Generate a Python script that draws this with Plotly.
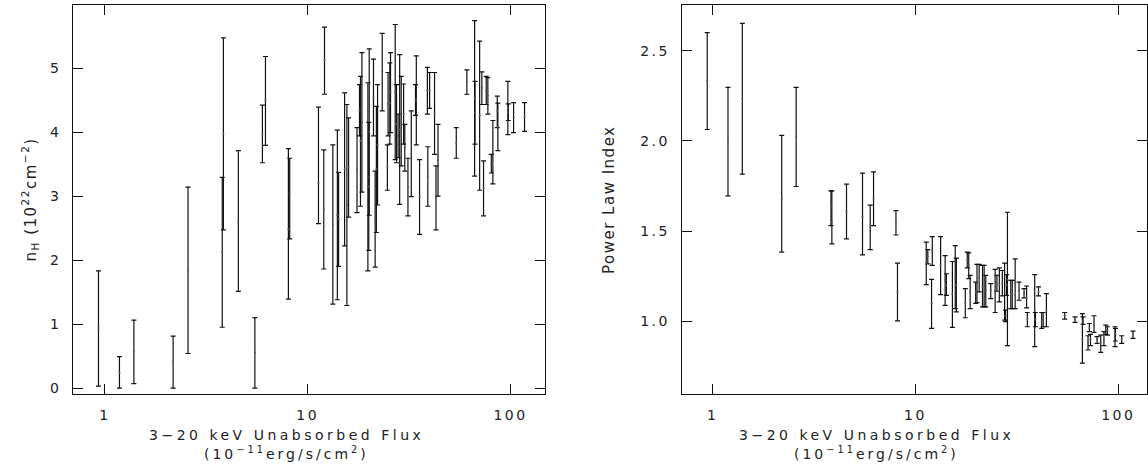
import plotly.graph_objects as go

# ---------------- data: left panel (n_H) ----------------
nh_flux = [0.93, 1.18, 1.39, 2.17, 2.57, 3.79, 3.84, 4.55, 5.49, 5.98, 6.19, 8.03, 8.15,
           11.3, 12.1, 12.0, 13.3, 14.0, 14.2, 15.2, 15.6, 15.9, 17.5,
           18.0, 18.2, 18.5, 19.8, 20.0, 20.1, 21.1, 21.5, 21.8, 22.1,
           23.3, 24.7, 24.9, 25.4, 25.6, 27.0, 27.4, 27.9, 28.4, 28.9,
           29.7, 30.1, 31.2, 32.4, 34.0, 34.3, 35.6, 38.9, 39.1, 39.9,
           42.2, 42.9, 43.9, 54.0, 60.9, 66.5, 66.8, 70.4, 72.2, 73.6,
           75.9, 77.3, 80.4, 81.8, 86.0, 86.6, 97.0, 97.5, 103.5, 117.2]
nh_lo = [0.03, 0.00, 0.07, 0.00, 0.54, 0.95, 2.47, 1.51, 0.00, 3.52, 3.79, 1.39, 2.33,
         2.57, 4.59, 1.86, 1.31, 1.38, 1.90, 2.22, 1.29, 2.67, 2.74,
         3.94, 2.84, 3.06, 1.83, 2.15, 2.70, 3.94, 1.89, 2.43, 2.86,
         4.33, 3.09, 3.94, 3.81, 3.99, 3.57, 3.52, 3.60, 2.87, 3.47,
         3.81, 3.39, 2.69, 2.99, 4.26, 3.80, 2.40, 4.28, 2.84, 4.37,
         3.65, 2.47, 3.00, 3.59, 4.59, 3.31, 3.81, 3.09, 4.43, 2.69,
         4.43, 4.28, 3.36, 3.19, 4.07, 3.71, 3.96, 4.18, 3.99, 4.01]
nh_hi = [1.83, 0.49, 1.06, 0.81, 3.14, 3.29, 5.47, 3.71, 1.10, 4.42, 5.18, 3.74, 3.59,
         4.39, 5.64, 3.72, 3.80, 4.03, 3.37, 4.61, 4.43, 4.22, 4.07,
         4.74, 4.87, 5.24, 4.77, 4.15, 5.30, 5.14, 3.39, 4.40, 4.74,
         5.54, 3.80, 4.93, 5.08, 5.24, 5.68, 4.74, 4.28, 5.21, 4.87,
         4.75, 4.12, 3.59, 4.33, 4.74, 5.19, 3.57, 5.01, 3.77, 4.93,
         4.93, 3.47, 4.12, 4.07, 4.97, 5.74, 4.79, 5.42, 4.94, 3.55,
         4.87, 4.85, 3.65, 4.18, 4.56, 4.45, 4.79, 4.44, 4.46, 4.46]
nh_val = [0.94, 0.24, 0.57, 0.41, 1.84, 2.12, 3.97, 2.60, 0.55, 3.97, 4.49, 2.48, 3.03,
          3.20, 5.12, 2.79, 2.55, 2.70, 2.64, 3.42, 2.86, 3.45, 3.41,
          4.34, 3.86, 4.15, 3.30, 3.15, 4.00, 4.54, 2.64, 3.42, 3.80,
          4.94, 3.45, 4.44, 4.45, 4.62, 4.63, 4.13, 3.94, 4.04, 4.17,
          4.28, 3.76, 3.14, 3.66, 4.50, 4.50, 2.99, 4.65, 3.31, 4.65,
          4.29, 2.97, 3.56, 3.83, 4.78, 4.53, 4.30, 4.26, 4.69, 3.12,
          4.65, 4.57, 3.51, 3.69, 4.32, 4.08, 4.38, 4.31, 4.23, 4.24]

# ---------------- data: right panel (power law index) ----------------
pl_flux = [0.94, 1.19, 1.40, 2.19, 2.58, 3.83, 3.87, 4.57, 5.48, 5.98, 6.21, 8.01, 8.15,
           11.3, 11.5, 12.0, 12.1, 13.3, 14.0, 14.2, 15.2, 15.7, 15.9,
           17.6, 18.0, 18.3, 18.6, 19.8, 20.1, 20.6, 21.4, 21.8, 22.2,
           23.5, 24.7, 25.2, 25.9, 26.8, 27.5, 27.8, 28.1, 28.4, 29.5,
           30.0, 31.0, 32.4, 34.3, 35.3, 35.6, 38.7, 39.0, 40.4, 41.9,
           42.6, 44.2, 54.4, 61.2, 66.5, 67.0, 70.9, 72.0, 72.9, 75.9,
           78.6, 81.9, 84.9, 86.7, 88.4, 96.3, 96.8, 103.9, 118.1]
pl_lo = [2.063, 1.695, 1.815, 1.383, 1.747, 1.530, 1.429, 1.456, 1.368, 1.397, 1.530, 1.478, 1.002,
         1.203, 1.318, 0.960, 1.309, 1.147, 1.088, 1.143, 0.965, 1.070, 1.052,
         1.019, 1.295, 1.236, 1.070, 1.098, 1.103, 1.162, 1.079, 1.079, 1.079,
         1.125, 1.048, 1.166, 1.107, 1.140, 1.006, 0.997, 1.143, 0.864, 1.070,
         1.070, 1.070, 1.116, 1.129, 1.074, 0.969, 0.859, 0.969, 1.140, 0.960,
         0.969, 0.969, 1.011, 0.993, 0.767, 0.982, 0.840, 0.942, 0.864, 0.938,
         0.877, 0.827, 0.864, 0.927, 0.923, 0.859, 0.890, 0.877, 0.905]
pl_hi = [2.600, 2.297, 2.652, 2.030, 2.297, 1.723, 1.723, 1.760, 1.821, 1.644, 1.828, 1.613, 1.322,
         1.438, 1.397, 1.232, 1.469, 1.469, 1.364, 1.263, 1.331, 1.419, 1.350,
         1.180, 1.383, 1.379, 1.254, 1.217, 1.315, 1.315, 1.309, 1.309, 1.254,
         1.208, 1.287, 1.254, 1.295, 1.281, 1.322, 1.061, 1.258, 1.604, 1.226,
         1.226, 1.346, 1.217, 1.180, 1.195, 1.048, 1.258, 1.048, 1.190, 1.048,
         1.048, 1.153, 1.048, 1.024, 1.042, 1.024, 0.919, 0.987, 0.927, 1.030,
         0.914, 0.923, 0.942, 0.978, 0.969, 0.969, 0.960, 0.919, 0.945]
pl_val = [2.334, 1.996, 2.233, 1.681, 2.023, 1.630, 1.549, 1.610, 1.580, 1.520, 1.680, 1.550, 1.162,
          1.32, 1.36, 1.10, 1.39, 1.31, 1.23, 1.20, 1.15, 1.24, 1.20,
          1.10, 1.34, 1.31, 1.16, 1.16, 1.21, 1.24, 1.19, 1.19, 1.17,
          1.17, 1.17, 1.21, 1.20, 1.21, 1.16, 1.03, 1.20, 1.23, 1.15,
          1.15, 1.21, 1.17, 1.15, 1.13, 1.01, 1.06, 1.01, 1.16, 1.00,
          1.01, 1.06, 1.03, 1.01, 0.90, 1.00, 0.88, 0.96, 0.90, 0.98,
          0.90, 0.88, 0.90, 0.95, 0.95, 0.91, 0.93, 0.90, 0.93]

# ---------------- axis labels / ticks ----------------
x_major = [1, 10, 100]
x_major_text = ["1", "10", "100"]
x_minor = [0.7, 0.8, 0.9, 2, 3, 4, 5, 6, 7, 8, 9, 20, 30, 40, 50, 60, 70, 80, 90]
nh_ticks = [0, 1, 2, 3, 4, 5]
nh_ticktext = ["0", "1", "2", "3", "4", "5"]
nh_minor = [0.2, 0.4, 0.6, 0.8, 1.2, 1.4, 1.6, 1.8, 2.2, 2.4, 2.6, 2.8,
            3.2, 3.4, 3.6, 3.8, 4.2, 4.4, 4.6, 4.8, 5.2, 5.4, 5.6, 5.8]
pl_ticks = [1.0, 1.5, 2.0, 2.5]
pl_ticktext = ["1.0", "1.5", "2.0", "2.5"]
pl_minor = [0.7, 0.8, 0.9, 1.1, 1.2, 1.3, 1.4, 1.6, 1.7, 1.8, 1.9,
            2.1, 2.2, 2.3, 2.4, 2.6, 2.7]
x_title_1 = "3\u221220 keV Unabsorbed Flux"
x_title_2 = "(10<sup>\u221211</sup>erg/s/cm<sup>2</sup>)"
nh_title = "n<sub>H</sub> (10<sup>22</sup>cm<sup>\u22122</sup>)"
pl_title = "Power Law Index"

FONT = "DejaVu Sans"
INK = "#111111"
TXT = "#222222"


def sp(t, ls=2.5):
    return '<span style="letter-spacing:%spx">%s</span>' % (ls, t)


def bars(flux, lo, hi, val, xa, ya):
    return go.Scatter(
        x=flux, y=val, mode="markers", xaxis=xa, yaxis=ya,
        marker=dict(size=2, color="#555555"),
        error_y=dict(type="data", symmetric=False,
                     array=[h - v for h, v in zip(hi, val)],
                     arrayminus=[v - l for v, l in zip(val, lo)],
                     color=INK, thickness=1.2, width=2.5),
        showlegend=False, hoverinfo="skip")


fig = go.Figure()
fig.add_trace(bars(nh_flux, nh_lo, nh_hi, nh_val, "x", "y"))
fig.add_trace(bars(pl_flux, pl_lo, pl_hi, pl_val, "x2", "y2"))

W, H = 1148, 470
top_px, bot_px = 5.3, 395.5
ydom = [(H - bot_px) / H, (H - top_px) / H]
xdom1 = [73.3 / W, 545 / W]
xdom2 = [682.3 / W, 1.0]
xr1 = [-0.156, 2.1675]
xr2 = [-0.1527, 2.1414]
yr1 = [-0.09, 5.98]
yr2 = [0.597, 2.752]

common = dict(ticks="inside", tickwidth=1, tickcolor=INK, showgrid=False,
              zeroline=False, mirror="ticks")


def xaxis(domain, rng, anchor):
    return dict(type="log", domain=domain, range=rng, anchor=anchor,
                tickmode="array", tickvals=x_major,
                ticktext=[sp(t) for t in x_major_text], ticklen=10,
                showline=True, linecolor=INK, linewidth=1,
                ticklabelstandoff=8,
                tickfont=dict(family=FONT, size=14, color=TXT), **common)


def xminor(domain, rng, anchor, over):
    return dict(type="log", domain=domain, range=rng, anchor=anchor,
                overlaying=over, side="bottom", tickmode="array",
                tickvals=x_minor, ticklen=5, showticklabels=False,
                showline=False, **common)


def yaxis(domain, rng, anchor, tv, tt):
    return dict(domain=domain, range=rng, anchor=anchor,
                tickmode="array", tickvals=tv, ticktext=[sp(t) for t in tt],
                ticklen=10, showline=True, linecolor=INK, linewidth=1,
                ticklabelstandoff=8,
                tickfont=dict(family=FONT, size=14, color=TXT), **common)


def yminor(domain, rng, anchor, over, tv):
    return dict(domain=domain, range=rng, anchor=anchor, overlaying=over,
                side="left", tickmode="array", tickvals=tv, ticklen=5,
                showticklabels=False, showline=False, **common)


fig.update_layout(
    width=W, height=H, margin=dict(l=0, r=0, t=0, b=0),
    paper_bgcolor="white", plot_bgcolor="white",
    xaxis=xaxis(xdom1, xr1, "y"),
    yaxis=yaxis(ydom, yr1, "x", nh_ticks, nh_ticktext),
    xaxis2=xaxis(xdom2, xr2, "y2"),
    yaxis2=yaxis(ydom, yr2, "x2", pl_ticks, pl_ticktext),
    xaxis3=xminor(xdom1, xr1, "y", "x"),
    yaxis3=yminor(ydom, yr1, "x", "y", nh_minor),
    xaxis4=xminor(xdom2, xr2, "y2", "x2"),
    yaxis4=yminor(ydom, yr2, "x2", "y2", pl_minor),
)

tfont = dict(family=FONT, size=14, color=TXT)
for cx in (287 / W, 877 / W):
    fig.add_annotation(x=cx, y=(H - 437) / H, xref="paper", yref="paper",
                       text=sp(x_title_1, 3.5), showarrow=False,
                       xanchor="center", yanchor="middle", font=tfont)
    fig.add_annotation(x=cx, y=(H - 455) / H, xref="paper", yref="paper",
                       text=sp(x_title_2, 3.0), showarrow=False,
                       xanchor="center", yanchor="middle", font=tfont)
fig.add_annotation(x=30 / W, y=(H - 200.4) / H, xref="paper", yref="paper",
                   text=sp(nh_title, 1.5), showarrow=False, textangle=-90,
                   xanchor="center", yanchor="middle",
                   font=dict(family=FONT, size=15, color=TXT))
fig.add_annotation(x=609 / W, y=(H - 200.4) / H, xref="paper", yref="paper",
                   text=sp(pl_title, 1.5), showarrow=False, textangle=-90,
                   xanchor="center", yanchor="middle",
                   font=dict(family=FONT, size=15, color=TXT))

fig.write_html("out.html")
